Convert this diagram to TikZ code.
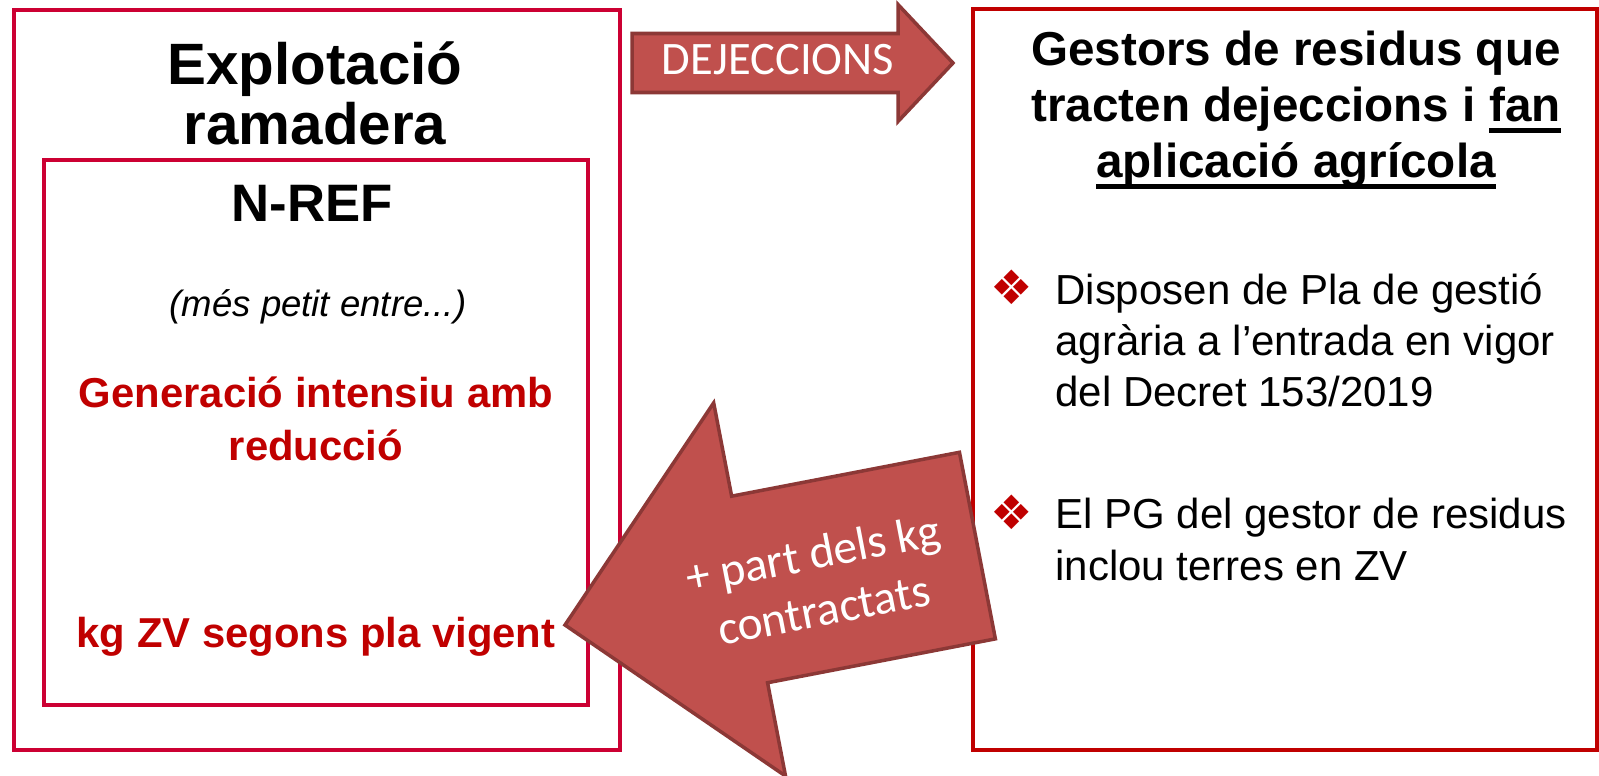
\documentclass[tikz,border=0pt]{standalone}
\usepackage{fontspec}
\setmainfont{Liberation Sans}
\newfontfamily\calibri{Carlito}
\newfontfamily\dejavu{DejaVu Sans}
\usetikzlibrary{positioning}
\definecolor{boxred}{RGB}{204,0,51}
\definecolor{darkred}{RGB}{192,0,0}
\definecolor{arrowfill}{RGB}{192,80,77}
\definecolor{arrowline}{RGB}{140,56,54}
\newcommand{\ulined}[1]{\setbox0\hbox{#1}\rlap{\rule[-6.4pt]{\wd0}{3.2pt}}\box0}
\tikzset{
x=0.02cm, y=0.02cm, % one unit is one pixel of the slide
frame/.style={draw=boxred, line width=1.8pt}, % boxes of the farm
gestor/.style={draw=darkred, line width=1.8pt}, % box of the waste managers
titletext/.style={anchor=base, inner sep=0pt, font=\bfseries\fontsize{33.2}{34}\selectfont},
reftext/.style={anchor=base, inner sep=0pt, font=\bfseries\fontsize{30}{32}\selectfont},
note/.style={anchor=base, inner sep=0pt, font=\itshape\fontsize{20.8}{24}\selectfont},
redtext/.style={anchor=base, inner sep=0pt, text=darkred, font=\bfseries\fontsize{23.8}{28}\selectfont},
headtext/.style={anchor=base, inner sep=0pt, font=\bfseries\fontsize{27.1}{32}\selectfont},
itemtext/.style={anchor=base west, inner sep=0pt, font=\fontsize{23.9}{28}\selectfont},
bullet/.style={inner sep=0pt, text=darkred, font=\dejavu\fontsize{27}{27}\selectfont}, % the diamond bullet
blockarrow/.style={fill=arrowfill, draw=arrowline, line width=2pt, line join=miter}, % the big arrows
arrowtext/.style={inner sep=0pt, text=white, align=center, font=\calibri\fontsize{27}{32.5}\selectfont},
}
\begin{document}
\begin{tikzpicture}
    \useasboundingbox (0,0) rectangle (1599,775);
    \draw[frame] (14,25) rectangle (620,765);
    \draw[frame] (44,70) rectangle (588,615);
    \draw[gestor] (973,25) rectangle (1597,766);

    \node[titletext] (expl) at (315,690) {Explotació};
    \node[titletext] (ram) at (315,630) {ramadera};
    \node[reftext] (nref) at (312,553) {N-REF};
    \node[note] (entre) at (318,458) {(més petit entre...)};
    \node[redtext] (gen) at (316,367) {Generació intensiu amb};
    \node[redtext] (reduc) at (316,315) {reducció};
    \node[redtext] (kgzv) at (316,128) {kg ZV segons pla vigent};

    \node[headtext] (gest1) at (1296,709) {Gestors de residus que};
    \node[headtext] (gest2) at (1296,653) {tracten dejeccions i \ulined{fan}};
    \node[headtext] (gest3) at (1296,597) {\ulined{aplicació agrícola}};

    \node[bullet] (b1) at (1012,488) {❖};
    \node[itemtext] (item1a) at (1055,470) {Disposen de Pla de gestió};
    \node[itemtext] (item1b) at (1055,419) {agrària a l’entrada en vigor};
    \node[itemtext] (item1c) at (1055,368) {del Decret 153/2019};
    \node[bullet] (b2) at (1012,263) {❖};
    \node[itemtext] (item2a) at (1055,247) {El PG del gestor de residus};
    \node[itemtext] (item2b) at (1055,195) {inclou terres en ZV};

    \draw[blockarrow] (632,682.5) -- (898,682.5) -- (898,653.5) -- (953,712)
        -- (898,770.5) -- (898,741.5) -- (632,741.5) -- cycle;
    \node[arrowtext, anchor=base, font=\calibri\fontsize{26.5}{30}\selectfont] (dej) at (778,700) {DEJECCIONS};

    \begin{scope}[shift={(565,150)}, rotate=10.9]
        \draw[blockarrow] (0,0) -- (188,190) -- (188,95) -- (420,95) -- (420,-95)
            -- (188,-95) -- (188,-190) -- cycle;
        \node[arrowtext, rotate=10.9] (kgcon) at (257,-5) {+ part dels kg\\contractats};
    \end{scope}
\end{tikzpicture}
\end{document}
